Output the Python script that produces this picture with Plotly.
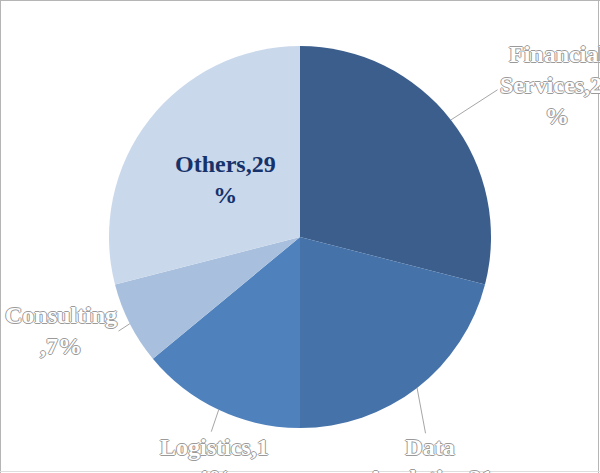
import math
import plotly.graph_objects as go

# ---- data ----
categories = ["Financial Services", "Data Analytics", "Logistics", "Consulting", "Others"]
values = [29, 21, 14, 7, 29]
label_texts = ["Financial<br>Services,29<br>%", "Data<br>Analytics,21<br>%",
               "Logistics,1<br>4%", "Consulting<br>,7%", "Others,29<br>%"]

# ---- style ----
colors = ["#3b5e8c", "#4472a9", "#4f81bd", "#a8c0dd", "#cad8eb"]
W, H = 600, 473
CX, CY, R = 300, 237, 191  # pie centre/radius in pixels

# label placement (pixels): text anchor x, y, yanchor ; leader end (radius factor, angle offset)
label_pos = [(557, 85, "middle"), (430, 432, "top"), (214, 432, "top"), (61, 330, "middle"), (225, 179, "middle")]
leader = [(1.29, 1.1), (1.22, 5.2), (1.12, -0.7), (1.07, -0.4), None]

def px(x):
    return x / W

def py(y):
    return 1 - y / H

fig = go.Figure(go.Pie(
    labels=categories, values=values, sort=False, direction="clockwise", rotation=0,
    marker=dict(colors=colors, line=dict(width=0)),
    textinfo="none", hoverinfo="label+percent", showlegend=False,
    domain=dict(x=[px(CX - R), px(CX + R)], y=[py(CY + R), py(CY - R)]),
))

total = sum(values)
cum = 0
shapes = []
annotations = []
outline = "-1px 0 #9a9a9a, 1px 0 #9a9a9a, 0 -1px #9a9a9a, 0 1px #9a9a9a"
for i, v in enumerate(values):
    mid = (cum + v / 2) / total * 360
    cum += v
    if leader[i] is not None:
        f, off = leader[i]
        a0 = math.radians(mid)
        a1 = math.radians(mid + off)
        x0, y0 = CX + R * math.sin(a0), CY - R * math.cos(a0)
        x1, y1 = CX + R * f * math.sin(a1), CY - R * f * math.cos(a1)
        shapes.append(dict(type="line", xref="paper", yref="paper",
                           x0=px(x0), y0=py(y0), x1=px(x1), y1=py(y1),
                           line=dict(color="#a6a6a6", width=1)))
        font = dict(family="Liberation Serif", size=24, color="white", weight="bold", shadow=outline)
    else:
        font = dict(family="Liberation Serif", size=24, color="#17326a", weight="bold")
    tx, ty, ya = label_pos[i]
    annotations.append(dict(text=label_texts[i], x=px(tx), y=py(ty), xref="paper", yref="paper",
                            xanchor="center", yanchor=ya, showarrow=False, align="center", font=font))

# chart border
shapes += [
    dict(type="line", xref="paper", yref="paper", x0=0, x1=1, y0=py(0.5), y1=py(0.5), line=dict(color="#b5b5b5", width=1)),
    dict(type="line", xref="paper", yref="paper", x0=px(0.5), x1=px(0.5), y0=0, y1=1, line=dict(color="#b5b5b5", width=1)),
    dict(type="line", xref="paper", yref="paper", x0=px(598.5), x1=px(598.5), y0=0, y1=1, line=dict(color="#b5b5b5", width=1)),
    dict(type="line", xref="paper", yref="paper", x0=0, x1=1, y0=py(471.5), y1=py(471.5), line=dict(color="#dedede", width=1)),
]

fig.update_layout(width=W, height=H, margin=dict(l=0, r=0, t=0, b=0),
                  paper_bgcolor="white", plot_bgcolor="white",
                  shapes=shapes, annotations=annotations)
fig.write_html("out.html", config={"displayModeBar": False},
               post_script="document.body.style.margin='0';document.body.style.overflow='hidden';")
